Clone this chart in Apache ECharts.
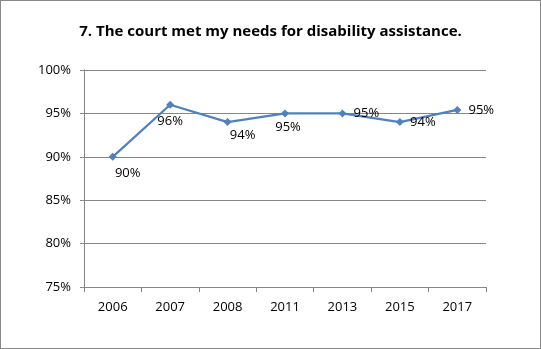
<!DOCTYPE html>
<html>
<head>
<meta charset="utf-8">
<script src="https://cdn.jsdelivr.net/npm/echarts@6/dist/echarts.min.js"></script>
<style>
  html, body { margin: 0; padding: 0; background: #fff; }
  #chart { width: 539px; height: 347px; border: 1px solid #898989; background: #fff; }
</style>
</head>
<body>
<div id="chart"></div>
<script>
// Survey years and the share of respondents who agreed (percent)
const years = ['2006', '2007', '2008', '2011', '2013', '2015', '2017'];
const agreePct = [90, 96, 94, 95, 95, 94, 95.4];
const yTicks = { min: 75, max: 100, step: 5 };

// Where each value label sits relative to its point, in pixels
const labelOffsets = [[15, 16], [0, 17], [15, 13], [3, 14], [24, 0], [23, 0], [24, 0]];

const font = '"Open Sans", "Liberation Sans", sans-serif';
const axisGray = '#868686';

const chart = echarts.init(document.getElementById('chart'), null, { renderer: 'canvas' });

chart.setOption({
  animation: false,
  backgroundColor: '#ffffff',
  title: {
    text: '7. The court met my needs for disability assistance.',
    left: 'center',
    top: 18,
    textStyle: { fontFamily: font, fontWeight: 'bold', fontSize: 15, color: '#000' }
  },
  grid: { left: 83, right: 54, top: 69, bottom: 61 },
  xAxis: {
    type: 'category',
    data: years,
    boundaryGap: true,
    axisLine: { lineStyle: { color: axisGray, width: 1 } },
    axisTick: { show: true, length: 5, lineStyle: { color: axisGray } },
    axisLabel: { color: '#000', fontFamily: font, fontSize: 13, margin: 14 },
    splitLine: { show: false }
  },
  yAxis: {
    type: 'value',
    min: yTicks.min,
    max: yTicks.max,
    interval: yTicks.step,
    axisLine: { show: true, lineStyle: { color: axisGray, width: 1 } },
    axisTick: { show: true, length: 4, lineStyle: { color: axisGray } },
    axisLabel: { color: '#000', fontFamily: font, fontSize: 13, margin: 13, formatter: '{value}%' },
    splitLine: { show: true, lineStyle: { color: axisGray, width: 1 } }
  },
  series: [{
    type: 'line',
    data: agreePct.map((v, i) => ({
      value: v,
      label: { offset: labelOffsets[i] }
    })),
    symbol: 'diamond',
    symbolSize: 8,
    lineStyle: { color: '#4F81BD', width: 2.25 },
    itemStyle: { color: '#4F81BD' },
    label: {
      show: true,
      position: 'inside',
      color: '#000',
      fontFamily: font,
      fontSize: 13,
      formatter: p => Math.round(p.value) + '%'
    }
  }]
});
</script>
</body>
</html>
